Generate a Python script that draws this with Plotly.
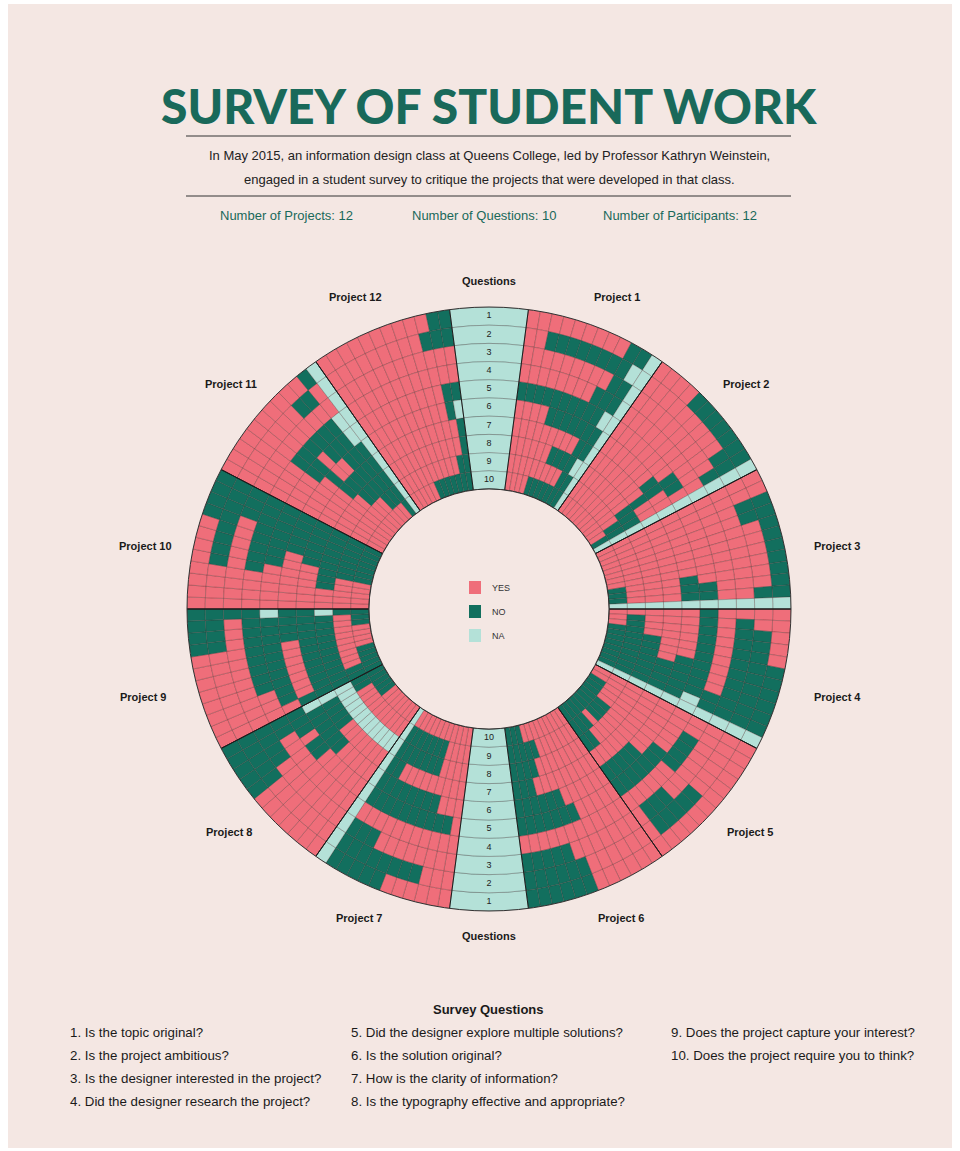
import plotly.graph_objects as go

W, H = 960, 1151

# ---------------- data ----------------
project_names = ["Project 1", "Project 2", "Project 3", "Project 4", "Project 5", "Project 6",
                 "Project 7", "Project 8", "Project 9", "Project 10", "Project 11", "Project 12"]
question_numbers = ["1", "2", "3", "4", "5", "6", "7", "8", "9", "10"]
answer_labels = ["YES", "NO", "NA"]
answer_codes = ["Y", "N", "A"]
survey_questions = [
    "1. Is the topic original?",
    "2. Is the project ambitious?",
    "3. Is the designer interested in the project?",
    "4. Did the designer research the project?",
    "5. Did the designer explore multiple solutions?",
    "6. Is the solution original?",
    "7. How is the clarity of information?",
    "8. Is the typography effective and appropriate?",
    "9. Does the project capture your interest?",
    "10. Does the project require you to think?",
]

# rows = question 1..10 (outer -> inner), columns = 12 participants clockwise
# Y = yes, N = no, A = not answered
project_1 = ["YYYYYYYYYNNA", "YYNNNNNNNNAA", "YYYYYYYYYNNA", "YYYYYYYYNNNA", "NNNNNNNNNNAA",
             "YYYYNNNNNNNA", "YYYYYYYYYNNA", "YYYYYYNNNNAA", "YYYYYYYYYNNA", "YYYYNNNNNNNA"]
project_2 = ["YYYYNNNNNNNA", "YYYYYYYYYNNA", "YYYYYYYYYYNA", "YYYYYYYYYYYA", "YYYYYYYYNNYA",
             "YYYYYYYNNYYA", "YYYYYYYYNYYA", "YYYYYYYYNNNA", "YYYYYYYYYNNA", "YYYYYYYYYYNA"]
project_3 = ["YYNNNNNNNNNA", "YYNNYYYYYYNA", "YYYYYYYYYYYA", "YYYYYYYYYYYA", "YYYYYYYYYNNA",
             "YYYYYYYYNNNA", "YYYYYYYYYYYA", "YYYYYYYYYYYA", "YYYYYYYYYYYA", "YYYYYYYYNNNA"]
project_4 = ["YYYYYNNNNNNA", "YYNNNNNNNNNA", "YNNNNNNNNNNA", "YYYYYYYYYNNA", "NNNNNNNNNNAA",
             "YYYYYYNNNNNA", "YYYYYYYNNNNA", "YYYYNNNNNNNA", "YNNNNNNNNNNA", "YYYNNNNNNNNA"]
project_5 = ["YYYYYYYYYYYY", "YYYYYYNNNNNY", "YYYYYYYYNNNY", "YYNNNNYYYYYY", "YYYYYNNNNNNN",
             "YYYYYYYNNNNN", "YYYYYYYYYYYY", "YYYYYYYYYYNN", "YYYYYNNNYNNN", "YYNNNNNNNNNN"]
project_6 = ["YYYYYYNNNNNN", "YYYYYYNNNNNN", "YYYYYYYNNNNN", "YYYYYYYYYYYY", "YYYYYNNNNNNN",
             "YYYYYYNNNNNN", "YYYYYYYYYNNN", "YYYYYYYYNNNN", "YYYYYYYNNNNN", "YYYYYYYYYNNN"]
project_7 = ["YYYYYYNNNNNA", "YYYNNNNNNNNA", "YYYYYYYYNNNA", "YYYYYYYYYYYA", "YNNNNNNNNNNA",
             "YYYNNNNNNNNA", "YYYYYYYYYNNA", "YYYYNNNNNNNA", "YYYYNNNNNNNA", "YYYYYYYYYYYA"]
project_8 = ["YYYYYYYNNNNN", "YYYYYYYNNNNN", "YYYYYYYYNNNN", "YYYYYYYYYYNN", "YYYYYYNNYNNN",
             "YYYYYNNNNNNA", "YYYYYYYNNNNA", "AAAAAAAAAAAA", "YYYYYYYYYYNN", "YYYYYYYNNNNN"]
project_9 = ["YYYYYYYYNNNN", "YYYYYYYYNNNN", "YYYYYYYYYYYN", "YYYNNNNNNNNN", "YNNNNNNNNNNA",
             "NYYYYYYYNNNN", "NNNNNNNNNNNN", "NNNNNNNNNNNA", "NNYYYYYYYYYN", "NNNNNYYYYNNN"]
project_10 = ["YYYYYYYYNNNN", "YYYYNNNNNNNN", "YYYYYYYYYNNN", "YYYYNNNNNNNN", "YYYYYNNNNNNN",
              "YYYYYYYNNNNN", "YYYYYYNNNNNN", "YYYNNNNNNNNN", "YYYYYNNNNNNN", "YYYYYNNNNNNN"]
project_11 = ["YYYYYYYYYYNA", "YYYYYYYYNNYA", "YYYYYYYYYYYA", "YYYYNNNNNNAA", "YYYYNNYNNNAA",
              "YYYYYNYYNNNA", "YYYYYNNNNNNA", "YYYYYYNNNNNA", "YYYYYYYYNNNA", "YYYYYYYYYYNA"]
project_12 = ["YYYYYYYYYYNN", "YYYYYYYYYNNN", "YYYYYYYYYYYY", "YYYYYYYYYYYY", "YYYYYYYYYYNN",
              "YYYYYYYYYYNA", "YYYYYYYYYYYN", "YYYYYYYYYYYN", "YYYYYYYYYYNN", "YYYYYNNNNNNN"]

all_projects = [project_1, project_2, project_3, project_4, project_5, project_6,
                project_7, project_8, project_9, project_10, project_11, project_12]

# ---------------- style ----------------
PINK = "#EF6E7A"
GREEN = "#126F5E"
TEAL = "#B4E1D8"
BG = "#F4E7E3"
TITLE_GREEN = "#19695A"
CELL_LINE = "rgba(70,40,40,0.45)"
answer_colors = [PINK, GREEN, TEAL]
FONT = "Liberation Sans, Arial, sans-serif"

Q_SPAN = 15.0
N_Q = len(question_numbers)
N_PART = len(all_projects[0][0])
HALF = len(all_projects) // 2
P_SPAN = (360.0 - 2 * Q_SPAN) / len(all_projects)
COL = P_SPAN / N_PART


def proj_start(i):
    if i < HALF:
        return Q_SPAN / 2 + i * P_SPAN
    return 180 + Q_SPAN / 2 + (i - HALF) * P_SPAN


def px(x):
    return x / W


def py(y):
    return 1 - y / H


fig = go.Figure()

cells = {code: {"theta": [], "base": []} for code in answer_codes}
for i, grid in enumerate(all_projects):
    s = proj_start(i)
    for q, row in enumerate(grid):
        for c, ch in enumerate(row):
            cells[ch]["theta"].append(s + COL * (c + 0.5))
            cells[ch]["base"].append(N_Q - 1 - q)

for code, label, color in zip(answer_codes, answer_labels, answer_colors):
    d = cells[code]
    n = len(d["theta"])
    fig.add_trace(go.Barpolar(
        r=[1] * n, theta=d["theta"], base=d["base"], width=[COL] * n,
        marker=dict(color=color, line=dict(color=CELL_LINE, width=0.6)),
        name=label, showlegend=False, hoverinfo="skip"))

# question sectors (top and bottom)
q_theta = [0] * N_Q + [180] * N_Q
q_base = [N_Q - 1 - q for q in range(N_Q)] * 2
fig.add_trace(go.Barpolar(
    r=[1] * len(q_theta), theta=q_theta, base=q_base, width=[Q_SPAN] * len(q_theta),
    marker=dict(color=TEAL, line=dict(color="rgba(60,60,60,0.55)", width=0.6)),
    showlegend=False, hoverinfo="skip"))
fig.add_trace(go.Scatterpolar(
    r=[b + 0.5 for b in q_base], theta=q_theta, mode="text",
    text=question_numbers * 2, textfont=dict(size=9, color="#222", family=FONT),
    showlegend=False, hoverinfo="skip"))

# sector boundary lines
b_r, b_t = [], []
for i in range(len(all_projects)):
    for a in (proj_start(i), proj_start(i) + P_SPAN):
        b_r += [0, N_Q, None]
        b_t += [a, a, None]
fig.add_trace(go.Scatterpolar(r=b_r, theta=b_t, mode="lines",
                              line=dict(color="#1d1d1d", width=1),
                              showlegend=False, hoverinfo="skip"))
# inner circle
fig.add_trace(go.Scatterpolar(r=[0] * 361, theta=list(range(361)), mode="lines",
                              line=dict(color="#333", width=1),
                              showlegend=False, hoverinfo="skip"))

cx, cy, R_OUT, R_IN = 489, 609, 302, 120
fig.update_layout(
    width=W, height=H, margin=dict(l=0, r=0, t=0, b=0),
    paper_bgcolor="#FFFFFF",
    polar=dict(
        domain=dict(x=[px(cx - R_OUT), px(cx + R_OUT)], y=[py(cy + R_OUT), py(cy - R_OUT)]),
        hole=R_IN / R_OUT, bgcolor="rgba(0,0,0,0)", barmode="overlay",
        radialaxis=dict(range=[0, N_Q], visible=False),
        angularaxis=dict(rotation=90, direction="clockwise", showticklabels=False, ticks="",
                         showgrid=False, showline=True, linecolor="#333", linewidth=1),
    ),
)

shapes = [dict(type="rect", xref="paper", yref="paper", x0=px(8), x1=px(952), y0=py(1148), y1=py(4),
               fillcolor=BG, line=dict(width=0), layer="below")]
for yl in (136, 196):
    shapes.append(dict(type="line", xref="paper", yref="paper", x0=px(186), x1=px(791),
                       y0=py(yl), y1=py(yl), line=dict(color="#333", width=1)))
# center legend squares
for k, color in enumerate(answer_colors):
    y0 = 581 + 24 * k
    shapes.append(dict(type="rect", xref="paper", yref="paper", x0=px(469), x1=px(481),
                       y0=py(y0 + 13), y1=py(y0), fillcolor=color, line=dict(width=0)))

ann = []


def text(x, y, s, size=13, color="#222", bold=False, xanchor="center", family=FONT):
    ann.append(dict(x=px(x), y=py(y), xref="paper", yref="paper", text=(f"<b>{s}</b>" if bold else s),
                    showarrow=False, xanchor=xanchor, yanchor="middle",
                    font=dict(size=size, color=color, family=family)))


ann.append(dict(x=px(489), y=py(106), xref="paper", yref="paper", text="SURVEY OF STUDENT WORK",
                showarrow=False, xanchor="center", yanchor="middle",
                font=dict(size=48, color=TITLE_GREEN, family="Lato, Liberation Sans, sans-serif", weight=900)))
text(489, 155, "In May 2015, an information design class at Queens College, led by Professor Kathryn Weinstein,", 13)
text(489, 180, "engaged in a student survey to critique the projects that were developed in that class.", 13)
text(286, 216, f"Number of Projects: {len(all_projects)}", 13, TITLE_GREEN)
text(484, 216, f"Number of Questions: {N_Q}", 13, TITLE_GREEN)
text(680, 216, f"Number of Participants: {N_PART}", 13, TITLE_GREEN)

label_pos = [(617, 297), (746, 384), (837, 546), (837, 697), (750, 832), (621, 918),
             (359, 918), (229, 832), (143, 697), (145, 546), (231, 384), (355, 297)]
for name, (x, y) in zip(project_names, label_pos):
    text(x, y, name, 11, "#1a1a1a", bold=True)
text(489, 281, "Questions", 11, "#1a1a1a", bold=True)
text(489, 936, "Questions", 11, "#1a1a1a", bold=True)

for k, lab in enumerate(answer_labels):
    text(490, 588 + 24 * k, lab, 9, "#333", xanchor="left")

text(488, 1009, "Survey Questions", 13, "#1a1a1a", bold=True)
cols_x = [68, 349, 669]
for k, qtext in enumerate(survey_questions):
    col = k // 4
    row = k % 4
    text(cols_x[col], 1032 + 23 * row, qtext, 13.3, "#1a1a1a", xanchor="left")

fig.update_layout(shapes=shapes, annotations=ann)
fig.write_html("out.html", config={"displayModeBar": False},
               post_script="document.body.style.margin='0';document.body.style.padding='0';"
                           "document.body.style.overflow='hidden';")
